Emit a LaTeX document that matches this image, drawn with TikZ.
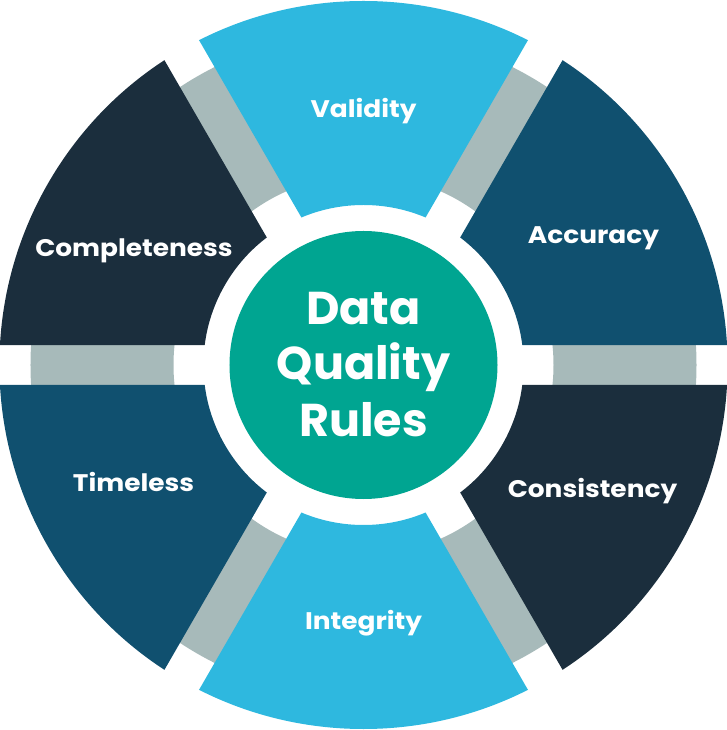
\documentclass[tikz,border=0pt]{standalone}
\usepackage{fontspec}
\setmainfont{Poppins}
\newfontfamily\segfont{Poppins}[FakeStretch=1.1]
\definecolor{lightblue}{HTML}{2EB8DF}
\definecolor{midblue}{HTML}{10506F}
\definecolor{darknavy}{HTML}{1B2E3D}
\definecolor{ringgray}{HTML}{A7BABA}
\definecolor{hubteal}{HTML}{00A591}
\tikzset{
  seglabel/.style={text=white, font=\segfont\fontsize{24}{28}\selectfont\bfseries, anchor=base, inner sep=0pt},
  hublabel/.style={text=white, font=\fontsize{46}{52}\selectfont\bfseries, anchor=base, inner sep=0pt}
}
\begin{document}
\begin{tikzpicture}[x=1pt,y=1pt]
\useasboundingbox (-363.5,-365) rectangle (363.5,365);
\fill[ringgray,even odd rule] (0,0) circle (333) (0,0) circle (190);
\foreach \a/\c in {90/lightblue,30/midblue,-30/darknavy,-90/lightblue,-150/midblue,150/darknavy}{
  \begin{scope}[rotate=\a-90]
    \clip (0,40) -- (-260,490.3) -- (260,490.3) -- cycle;
    \fill[\c, even odd rule] (0,0) circle (364) (0,0) circle (160);
  \end{scope}
}
\fill[hubteal] (0,0) circle (134);
\node[seglabel] (validity) at (0,247) {Validity};
\node[seglabel] (accuracy) at (230,121) {Accuracy};
\node[seglabel] (consistency) at (229,-132) {Consistency};
\node[seglabel] (integrity) at (0,-264) {Integrity};
\node[seglabel] (timeless) at (-230,-127) {Timeless};
\node[seglabel] (completeness) at (-229.5,108) {Completeness};
\node[hublabel] (data) at (0,40) {Data};
\node[hublabel] (quality) at (0,-15) {Quality};
\node[hublabel] (rules) at (0,-72) {Rules};
\end{tikzpicture}
\end{document}
